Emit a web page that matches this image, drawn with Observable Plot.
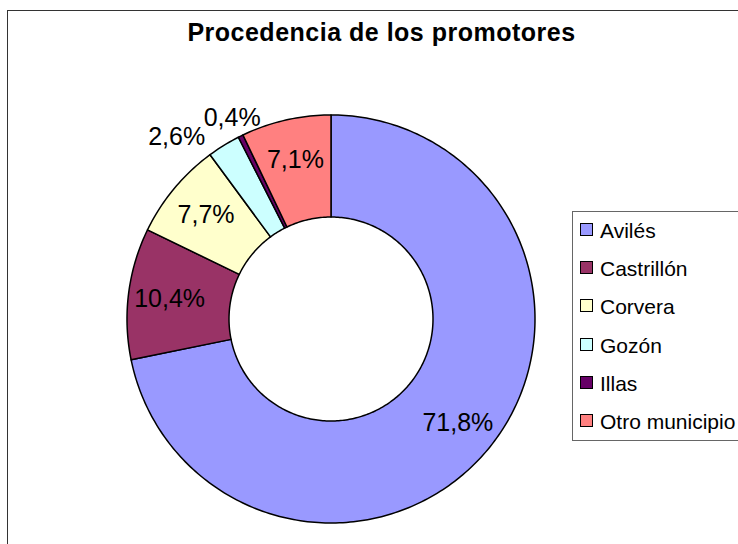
<!DOCTYPE html>
<html>
<head>
<meta charset="utf-8">
<script src="https://cdn.jsdelivr.net/npm/d3@7"></script>
<script src="https://cdn.jsdelivr.net/npm/@observablehq/plot@0.6"></script>
<style>
  html, body { margin: 0; padding: 0; background: #fff; }
  #wrap { position: relative; width: 738px; height: 544px; overflow: hidden; font-family: "Liberation Sans", Arial, sans-serif; }
  #chart { position: absolute; left: 0; top: 0; }
  #frame { position: absolute; left: 7px; top: 10px; width: 800px; height: 600px; border: 1.5px solid #333; pointer-events: none; }
  #title { position: absolute; left: 0; top: 20px; width: 763px; text-align: center; font-weight: bold; font-size: 25px; line-height: 25px; letter-spacing: 0.5px; color: #000; }
  #legend { position: absolute; left: 572px; top: 211px; width: 200px; height: 228px; border: 1px solid #666; background: #fff; }
  .lrow { position: absolute; left: 0; height: 21px; font-size: 21px; line-height: 21px; color: #000; white-space: nowrap; }
  .lsw { position: absolute; left: 7px; top: 3px; width: 11px; height: 11px; border: 1.5px solid #000; }
  .ltx { position: absolute; left: 27px; top: 0; }
</style>
</head>
<body>
<div id="wrap">
  <div id="chart"></div>
  <div id="title">Procedencia de los promotores</div>
  <div id="legend"></div>
  <div id="frame"></div>
</div>
<script>
// ---- data ----
const categories = ["Avilés", "Castrillón", "Corvera", "Gozón", "Illas", "Otro municipio"];
const values = [71.8, 10.4, 7.7, 2.6, 0.4, 7.1];
const colors = ["#9999FF", "#993366", "#FFFFCC", "#CCFFFF", "#660066", "#FF8080"];

// ---- geometry derived from data ----
const innerRatio = 0.5;
const total = d3.sum(values);
const slices = [];
let acc = 0;
categories.forEach((name, i) => {
  const a0 = acc / total * 2 * Math.PI;
  acc += values[i];
  const a1 = acc / total * 2 * Math.PI;
  slices.push({name, value: values[i], a0, a1, mid: (a0 + a1) / 2,
    label: values[i].toFixed(1).replace(".", ",") + "%"});
});

const ring = [];
for (const s of slices) {
  const n = Math.max(2, Math.ceil((s.a1 - s.a0) * 180 / Math.PI));
  for (let k = 0; k <= n; k++) {
    const a = s.a0 + (s.a1 - s.a0) * k / n;
    ring.push({name: s.name, xo: Math.sin(a), yo: Math.cos(a),
      xi: innerRatio * Math.sin(a), yi: innerRatio * Math.cos(a)});
  }
}

const inside = slices.filter(s => s.value >= 5)
  .map(s => ({...s, x: 0.8 * Math.sin(s.mid), y: 0.8 * Math.cos(s.mid)}));
const outside = slices.filter(s => s.value < 5)
  .map(s => ({...s, x: 1.1 * Math.sin(s.mid), y: 1.1 * Math.cos(s.mid)}));

const font = "Liberation Sans, Arial, sans-serif";

const chart = Plot.plot({
  width: 738,
  height: 544,
  margin: 0,
  style: {background: "transparent", fontFamily: font},
  x: {domain: [-1, 1], range: [127, 535], axis: null},
  y: {domain: [-1, 1], range: [523, 115], axis: null},
  color: {domain: categories, range: colors},
  marks: [
    Plot.area(ring, {x1: "xo", y1: "yo", x2: "xi", y2: "yi", z: "name", fill: "name",
      stroke: "black", strokeWidth: 1.5, strokeLinejoin: "round"}),
    Plot.text(inside, {x: "x", y: "y", text: "label", fontSize: 25, fill: "black"}),
    Plot.text(outside.slice(0, 1), {x: "x", y: "y", text: "label", fontSize: 25, fill: "black", dx: -37, dy: 8}),
    Plot.text(outside.slice(1), {x: "x", y: "y", text: "label", fontSize: 25, fill: "black"})
  ]
});
document.getElementById("chart").appendChild(chart);

// ---- legend (colors from the plot's color scale) ----
const colorScale = chart.scale("color");
const legend = document.getElementById("legend");
categories.forEach((name, i) => {
  const row = document.createElement("div");
  row.className = "lrow";
  row.style.top = (8 + i * 38.2) + "px";
  const sw = document.createElement("div");
  sw.className = "lsw";
  sw.style.background = colorScale.range[colorScale.domain.indexOf(name)];
  const tx = document.createElement("div");
  tx.className = "ltx";
  tx.textContent = name;
  row.appendChild(sw);
  row.appendChild(tx);
  legend.appendChild(row);
});
</script>
</body>
</html>
